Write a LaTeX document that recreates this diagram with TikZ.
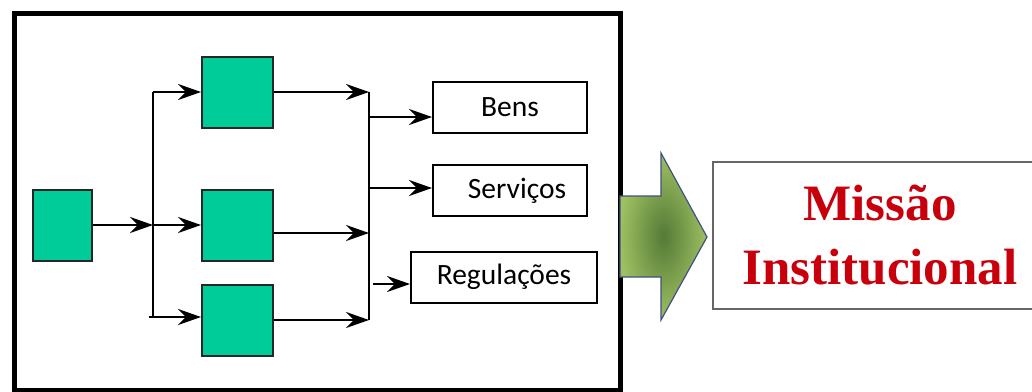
\documentclass[tikz,border=0pt]{standalone}
\usepackage{fontspec}
\setmainfont{Liberation Serif}
\newfontfamily\calfont{Carlito}
\usetikzlibrary{positioning,arrows.meta,shapes}
\definecolor{blkgreen}{RGB}{0,204,153}
\definecolor{arrdark}{RGB}{84,122,54}
\definecolor{arrlight}{RGB}{158,192,98}
\definecolor{arredge}{RGB}{62,82,128}
\definecolor{missred}{RGB}{200,0,12}
\tikzstyle{blk}=[draw=black!85, fill=blkgreen, minimum width=71pt, minimum height=71pt, line width=2pt, inner sep=0pt]
\tikzstyle{outbox}=[draw, line width=2pt, minimum height=51pt, inner sep=0pt, font=\calfont\fontsize{29.5}{32}\selectfont]
\tikzstyle{flow}=[line width=2.8pt]
\tikzstyle{flowarr}=[line width=2.8pt, -{Stealth[length=23pt,width=16pt,inset=8pt]}]
\tikzstyle{mission}=[draw=black!60, line width=2pt, minimum width=334pt, minimum height=147pt, align=center, text=missred, font=\fontsize{51}{64}\selectfont\bfseries]

\begin{document}
\begin{tikzpicture}[x=1pt,y=-1pt]
\useasboundingbox (0,0) rectangle (1032,391);
% frame
\draw[line width=5pt] (14,13) rectangle (620,390);

% blocks
\node[blk, minimum width=59pt] (src) at (62.5,225) {};
\node[blk] (top) at (237.5,92) {};
\node[blk] (mid) at (237.5,225) {};
\node[blk] (bot) at (237.5,320.5) {};

% split
\coordinate (split) at (153,225);
\coordinate (splittop) at (153,92);
\coordinate (splitbot) at (149,317);
\draw[flowarr] (src) -- (split);
\draw[flow] (splittop) -- (splittop |- splitbot);
\draw[flowarr] (splittop) -- (top);
\draw[flowarr] (split) -- (mid);
\draw[flowarr] (splitbot) -- (splitbot -| bot.west);

% join
\coordinate (jointop) at (369,92);
\coordinate (joinmid) at (369,233);
\coordinate (joinbot) at (369,320);
\draw[flowarr] (top) -- (jointop);
\draw[flowarr] (mid.east |- joinmid) -- (joinmid);
\draw[flowarr] (bot.east |- joinbot) -- (joinbot);
\draw[flow] (jointop) -- (joinbot);

% outputs
\node[outbox, minimum width=154pt] (bens) at (510,107) {Bens};
\node[outbox, minimum width=154pt] (serv) at (510,190.5) {\hspace{14pt}Serviços};
\node[outbox, minimum width=186pt] (reg) at (504,277) {Regulações};
\coordinate (b1) at (369,117);
\coordinate (b2) at (369,188);
\coordinate (b3) at (373,284);
\draw[flowarr] (b1) -- (b1 -| bens.west);
\draw[flowarr] (b2) -- (b2 -| serv.west);
\draw[flowarr] (b3) -- (b3 -| reg.west);

% big arrow
\shadedraw[draw=arredge, line width=1.2pt, inner color=arrdark, outer color=arrlight]
  (620,196) -- (661,196) -- (661,153) -- (707,237) -- (661,320) -- (661,277) -- (620,277) -- cycle;

\node[mission] (missao) at (880,235.5) {Missão\\Institucional};
\end{tikzpicture}
\end{document}
